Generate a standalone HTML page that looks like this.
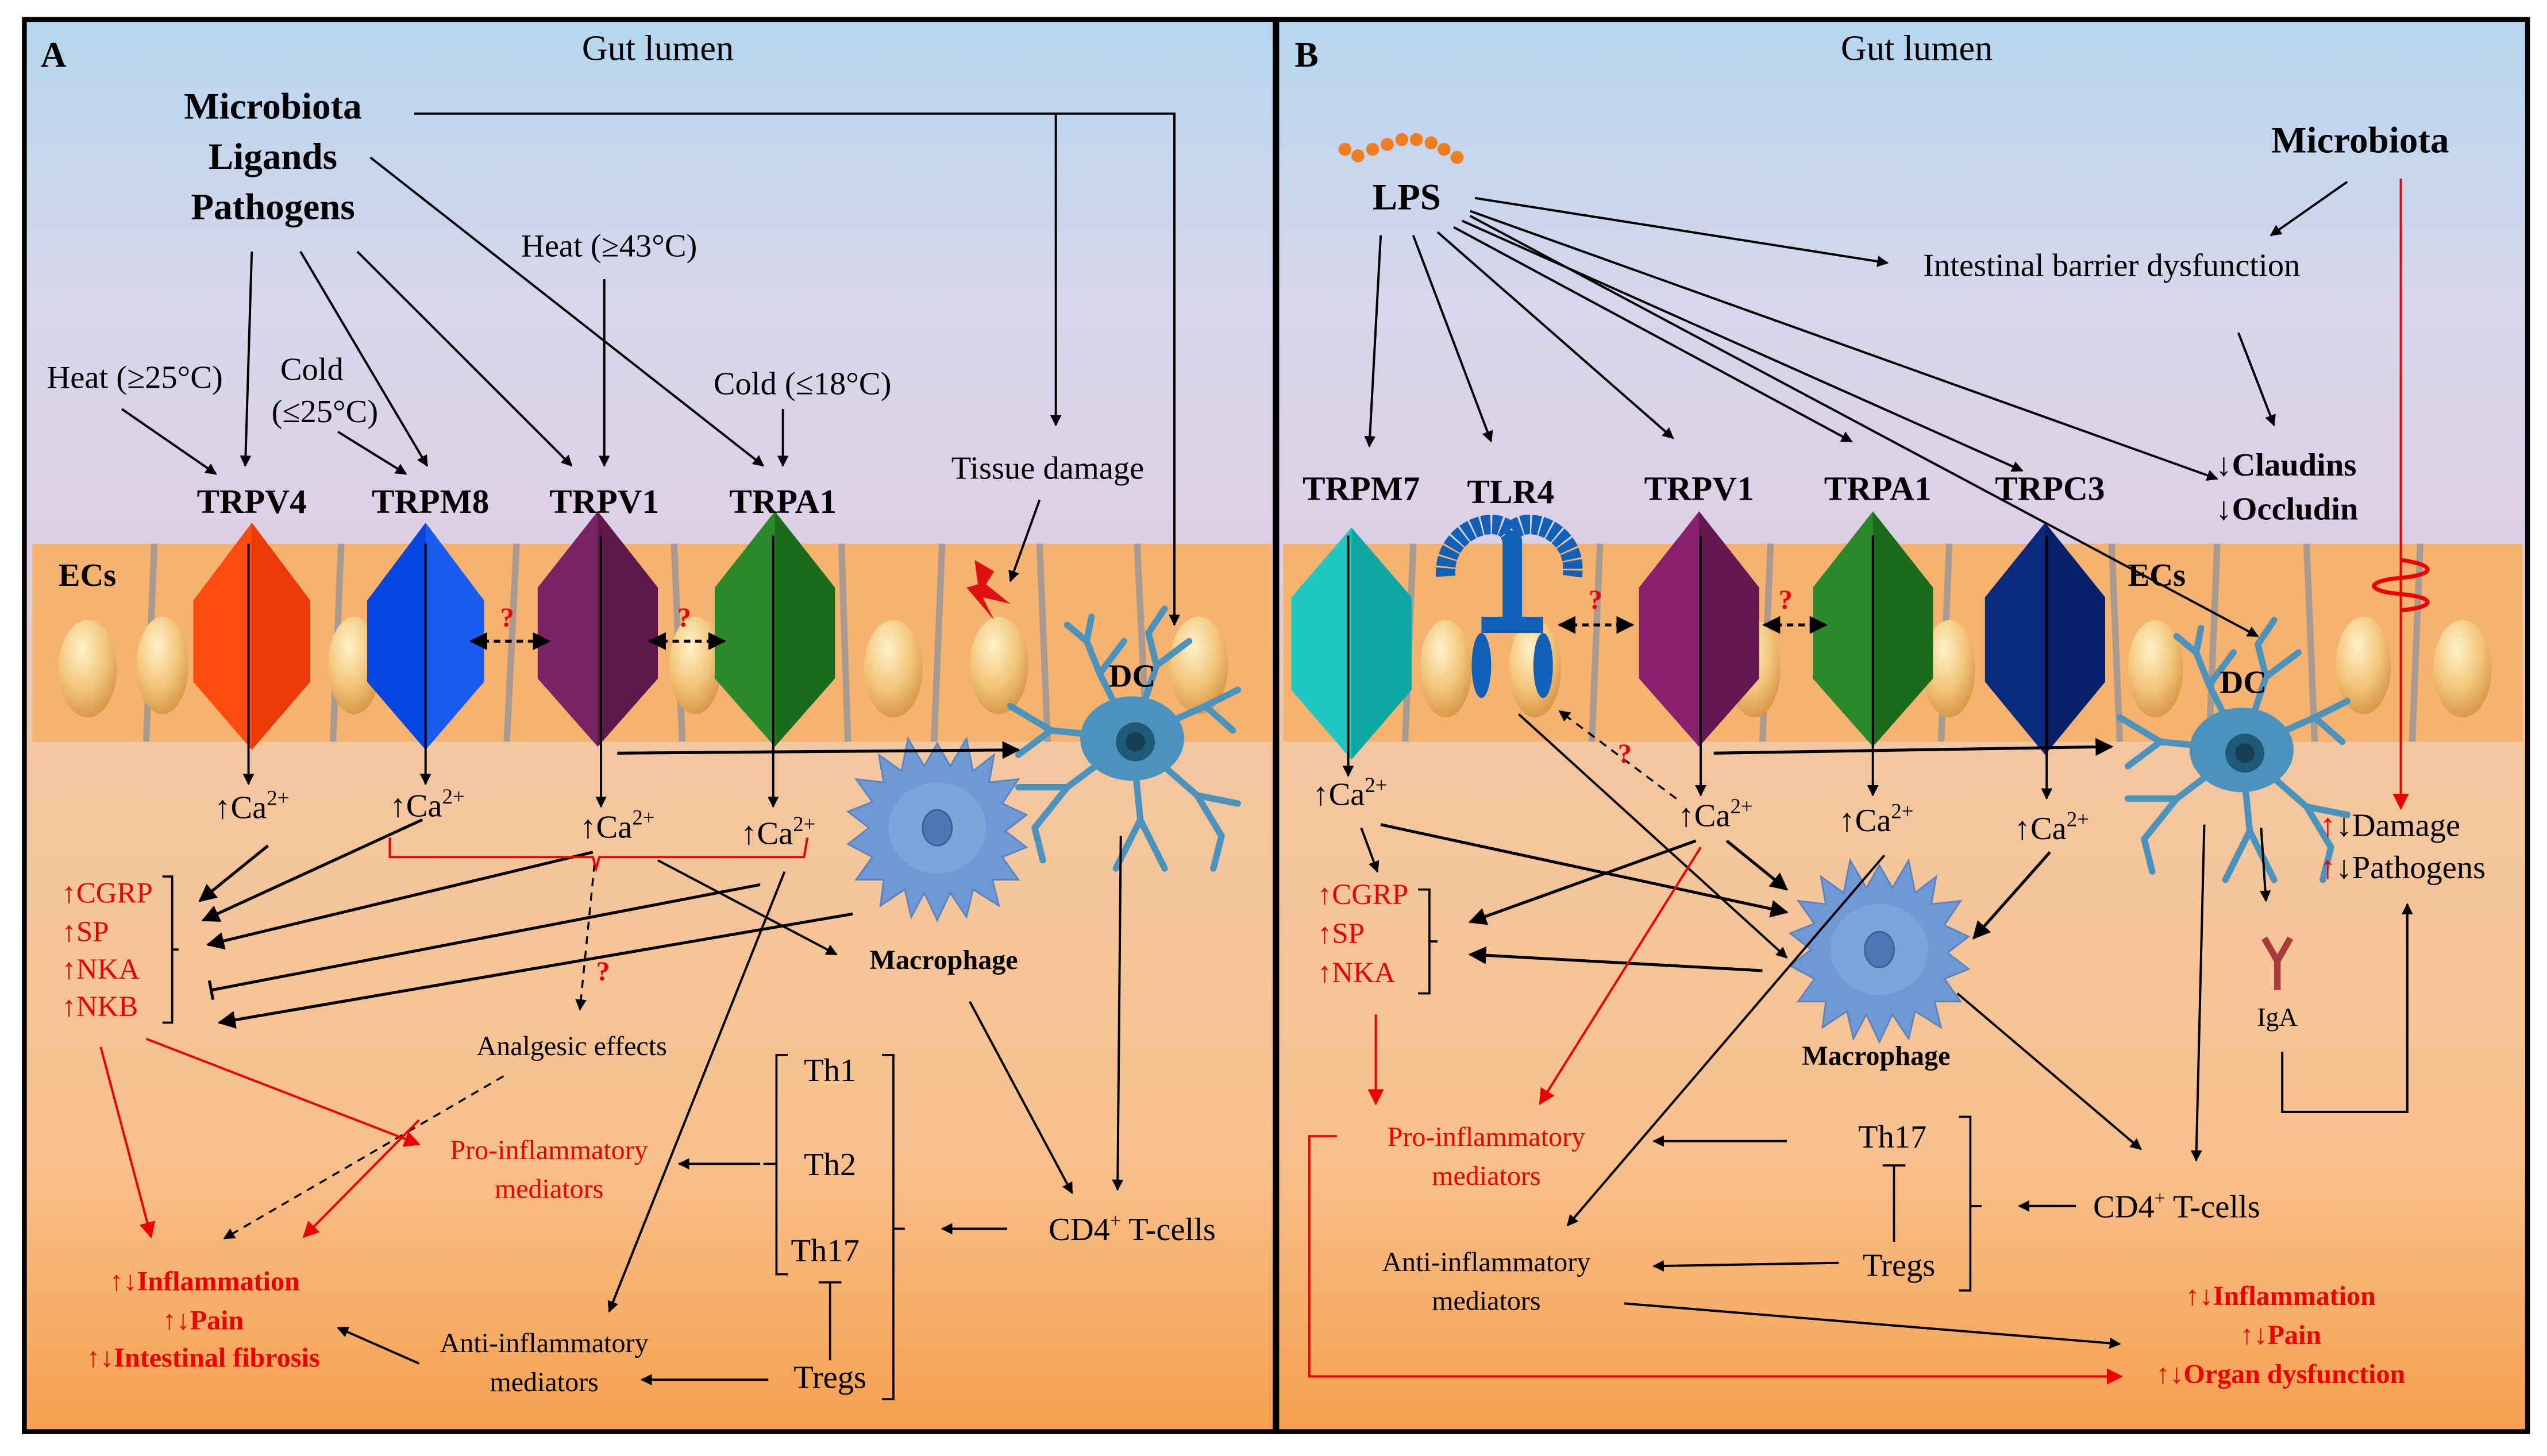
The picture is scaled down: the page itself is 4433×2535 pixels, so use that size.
<!DOCTYPE html>
<html><head><meta charset="utf-8">
<style>
html,body{margin:0;padding:0;background:#fff;}
svg{display:block;}
text{font-family:"Liberation Serif",serif;}
</style></head>
<body>
<svg width="4433" height="2535" viewBox="0 0 1568 897" preserveAspectRatio="none" xmlns="http://www.w3.org/2000/svg">
<defs>
<linearGradient id="bg" x1="0" y1="0" x2="0" y2="1">
<stop offset="0" stop-color="#b5d6ef"/>
<stop offset="0.2" stop-color="#d8d6ea"/>
<stop offset="0.37" stop-color="#ddd0e6"/>
<stop offset="0.52" stop-color="#f2c7a0"/>
<stop offset="0.8" stop-color="#f8c18e"/>
<stop offset="1" stop-color="#f5a04e"/>
</linearGradient>
<radialGradient id="nuc" cx="0.4" cy="0.3" r="0.7">
<stop offset="0" stop-color="#fff2c8"/><stop offset="0.6" stop-color="#f2c57a"/><stop offset="1" stop-color="#d99a4a"/>
</radialGradient>
<marker id="ar" viewBox="0 0 10 10" refX="9" refY="5" markerWidth="7" markerHeight="7" orient="auto-start-reverse" markerUnits="userSpaceOnUse"><path d="M0,0 L10,5 L0,10 z" fill="#000"/></marker>
<marker id="arb" viewBox="0 0 10 10" refX="9" refY="5" markerWidth="11" markerHeight="11" orient="auto-start-reverse" markerUnits="userSpaceOnUse"><path d="M0,0 L10,5 L0,10 z" fill="#000"/></marker>
<marker id="arr" viewBox="0 0 10 10" refX="9" refY="5" markerWidth="10" markerHeight="10" orient="auto" markerUnits="userSpaceOnUse"><path d="M0,0 L10,5 L0,10 z" fill="#e00"/></marker>
<marker id="bar" viewBox="0 0 10 10" refX="5" refY="5" markerWidth="12" markerHeight="12" orient="auto" markerUnits="userSpaceOnUse"><path d="M5,0 L5,10" stroke="#000" stroke-width="1.5"/></marker>
<g id="dc">
<g stroke="#4a93bd" stroke-width="4" fill="none" stroke-linecap="round">
<path d="M0,0 L-20,-40 L-28,-60 M-20,-40 L-5,-60 M-28,-60 L-40,-70 M-28,-60 L-25,-75"/>
<path d="M0,0 L15,-45 L10,-65 M15,-45 L35,-60 M10,-65 L20,-80"/>
<path d="M0,0 L45,-20 L65,-30 M45,-20 L62,-5"/>
<path d="M0,0 L40,35 L55,60 M40,35 L65,40 M55,60 L50,80"/>
<path d="M0,0 L5,50 L20,80 M5,50 L-10,80"/>
<path d="M0,0 L-40,30 L-60,55 M-40,30 L-70,30 M-60,55 L-55,75"/>
<path d="M0,0 L-50,-5 L-75,-20 M-50,-5 L-70,10"/>
</g>
<ellipse cx="0" cy="0" rx="32" ry="26" fill="#4a93bd"/>
<circle cx="2" cy="2" r="12" fill="#1f5a78"/>
<circle cx="2" cy="2" r="6" fill="#163f55"/>
</g>
<g id="mac">
<path d="M0,-52 L8,-38 L18,-55 L22,-35 L35,-45 L32,-28 L50,-30 L40,-15 L55,-8 L42,2 L55,12 L40,18 L50,32 L34,32 L38,48 L22,38 L18,55 L8,40 L0,57 L-8,40 L-16,55 L-20,38 L-35,48 L-33,32 L-50,32 L-40,18 L-55,10 L-42,0 L-55,-10 L-40,-16 L-50,-30 L-33,-28 L-36,-45 L-22,-35 L-18,-55 L-8,-38 Z" fill="#6f98d4" stroke="#5a84c0" stroke-width="1"/>
<ellipse cx="0" cy="0" rx="30" ry="28" fill="#7ea4dc"/>
<ellipse cx="0" cy="0" rx="9" ry="11" fill="#4d77b5" stroke="#3a5f95"/>
</g>
</defs>

<!-- backgrounds -->
<rect x="15" y="12" width="770" height="870" fill="url(#bg)"/>
<rect x="786" y="12" width="770" height="870" fill="url(#bg)"/>

<!-- epithelial bands -->
<g>
<rect x="20" y="335" width="763" height="122" fill="#f6b26f"/>
<rect x="790" y="335" width="763" height="122" fill="#f6b26f"/>
<g stroke="#a89a90" stroke-width="4">
<line x1="95" y1="335" x2="90" y2="457"/><line x1="210" y1="335" x2="205" y2="457"/><line x1="318" y1="335" x2="312" y2="457"/>
<line x1="415" y1="335" x2="420" y2="457"/><line x1="518" y1="335" x2="522" y2="457"/><line x1="580" y1="335" x2="575" y2="457"/>
<line x1="640" y1="335" x2="645" y2="457"/><line x1="700" y1="335" x2="706" y2="457"/>
<line x1="870" y1="335" x2="865" y2="457"/><line x1="985" y1="335" x2="980" y2="457"/><line x1="1090" y1="335" x2="1085" y2="457"/>
<line x1="1200" y1="335" x2="1195" y2="457"/><line x1="1300" y1="335" x2="1305" y2="457"/><line x1="1365" y1="335" x2="1360" y2="457"/>
<line x1="1420" y1="335" x2="1425" y2="457"/><line x1="1490" y1="335" x2="1485" y2="457"/>
</g>
<g fill="url(#nuc)">
<ellipse cx="54" cy="412" rx="18" ry="30"/><ellipse cx="100" cy="410" rx="16" ry="30"/><ellipse cx="218" cy="410" rx="16" ry="30"/>
<ellipse cx="428" cy="410" rx="16" ry="30"/><ellipse cx="550" cy="412" rx="18" ry="30"/><ellipse cx="615" cy="410" rx="18" ry="30"/><ellipse cx="738" cy="410" rx="18" ry="30"/>
<ellipse cx="890" cy="412" rx="16" ry="30"/><ellipse cx="945" cy="412" rx="16" ry="30"/><ellipse cx="1080" cy="412" rx="16" ry="30"/>
<ellipse cx="1200" cy="412" rx="16" ry="30"/><ellipse cx="1327" cy="412" rx="17" ry="30"/><ellipse cx="1455" cy="410" rx="17" ry="30"/><ellipse cx="1516" cy="412" rx="18" ry="30"/>
</g>
</g>

<!-- channels panel A -->
<g>
<polygon points="155,322 191,370 191,420 155,462 119,420 119,370" fill="#ff4a10"/>
<polygon points="155,322 191,370 191,420 155,462" fill="#ea3a05"/>
<polygon points="262,322 298,370 298,420 262,462 226,420 226,370" fill="#0745e0"/>
<polygon points="262,322 298,370 298,420 262,462" fill="#1a5cf0"/>
<polygon points="368,315 405,362 405,418 368,460 331,418 331,362" fill="#7a2266"/>
<polygon points="368,315 405,362 405,418 368,460" fill="#5c1848"/>
<polygon points="477,315 514,362 514,418 477,460 440,418 440,362" fill="#2a8a2a"/>
<polygon points="477,315 514,362 514,418 477,460" fill="#1c6b1c"/>
<polygon points="832,325 869,368 869,425 832,468 795,425 795,368" fill="#1ec8c0"/>
<polygon points="832,325 869,368 869,425 832,468" fill="#0ea8a2"/>
<polygon points="1046,315 1083,362 1083,418 1046,460 1009,418 1009,362" fill="#8a2070"/>
<polygon points="1046,315 1083,362 1083,418 1046,460" fill="#641850"/>
<polygon points="1153,315 1190,362 1190,418 1153,460 1116,418 1116,362" fill="#2a8a2a"/>
<polygon points="1153,315 1190,362 1190,418 1153,460" fill="#1c6b1c"/>
<polygon points="1259,322 1296,368 1296,420 1259,465 1222,420 1222,368" fill="#0a2a80"/>
<polygon points="1259,322 1296,368 1296,420 1259,465" fill="#051f68"/>
</g>
<!-- TLR4 -->
<g fill="#1060b8">
<path d="M890,355 C888,325 925,315 930,330 C935,315 972,325 968,355" fill="none" stroke="#1060b8" stroke-width="12" stroke-dasharray="5 1"/>
<rect x="925" y="328" width="12" height="60" rx="5"/>
<path d="M912,385 L950,385" stroke="#1060b8" stroke-width="10"/>
<ellipse cx="912" cy="410" rx="6" ry="20"/><ellipse cx="950" cy="410" rx="6" ry="20"/>
</g>

<!-- DCs, macrophages -->
<use href="#dc" x="697" y="455"/>
<use href="#dc" x="1380" y="462"/>
<use href="#mac" x="577" y="510"/>
<use href="#mac" x="1157" y="585"/>
<!-- lightning -->
<polygon points="600,345 612,352 607,360 622,372 605,368 612,382 595,362 602,360" fill="#e01010"/>
<!-- spring B -->
<path d="M1478,345 C1500,348 1500,354 1478,356 C1456,358 1456,364 1478,366 C1500,368 1500,374 1478,376" fill="none" stroke="#e00" stroke-width="2.5"/>
<!-- IgA -->
<g stroke="#a83a3a" stroke-width="4" fill="none"><path d="M1402,610 L1402,592 L1394,578 M1402,592 L1410,578"/></g>

<!-- panel borders -->
<rect x="15" y="12" width="770" height="870" fill="none" stroke="#000" stroke-width="3"/>
<rect x="786" y="12" width="770" height="870" fill="none" stroke="#000" stroke-width="3"/>

<!-- ===== Panel A connectors ===== -->
<g stroke="#000" stroke-width="1.4" fill="none" marker-end="url(#ar)">
<path d="M255,70 L723,70 L723,385"/>
<path d="M650,70 L650,262"/>
<path d="M228,97 L470,287"/>
<path d="M155,155 L151,287"/>
<path d="M185,155 L263,287"/>
<path d="M220,155 L352,287"/>
<path d="M372,172 L372,287"/>
<path d="M75,252 L133,292"/>
<path d="M208,266 L250,292"/>
<path d="M482,252 L482,287"/>
<path d="M640,308 L622,358"/>
<path d="M153,335 L153,483"/>
<path d="M262,335 L262,483"/>
<path d="M370,330 L370,497"/>
<path d="M476,330 L476,497"/>
<path d="M690,515 L688,733"/>
<path d="M405,530 L515,588"/>
<path d="M483,537 L375,808"/>
<path d="M597,617 L660,735"/>
<path d="M468,717 L418,717"/>
<path d="M620,757 L580,757"/>
<path d="M473,850 L395,850"/>
<path d="M258,840 L208,818"/>
</g>
<g stroke="#000" stroke-width="1.8" fill="none" marker-end="url(#arb)">
<path d="M380,464 L627,462"/>
<path d="M165,521 L123,555"/>
<path d="M260,505 L125,567"/>
<path d="M365,525 L128,582"/>
<path d="M525,563 L135,630"/>
</g>
<path d="M468,545 L130,610" stroke="#000" stroke-width="1.8" marker-end="url(#bar)"/>
<!-- dashed double -->
<g stroke="#000" stroke-width="1.8" stroke-dasharray="4 3" fill="none" marker-start="url(#arb)" marker-end="url(#arb)">
<path d="M290,395 L338,395"/><path d="M400,395 L446,395"/>
<path d="M960,385 L1005,385"/><path d="M1086,385 L1124,385"/>
</g>
<g stroke="#000" stroke-width="1.2" stroke-dasharray="5 4" fill="none" marker-end="url(#ar)">
<path d="M366,532 L357,622"/>
<path d="M310,663 L138,763"/>
<path d="M1032,492 L960,438"/>
</g>
<!-- red connectors A -->
<g stroke="#e00" stroke-width="1.4" fill="none">
<path d="M240,516 L240,528 L365,528 L367,535 L369,528 L495,528 L497,516"/>
</g>
<g stroke="#e00" stroke-width="1.4" fill="none" marker-end="url(#arr)">
<path d="M90,640 L258,705"/>
<path d="M62,645 L93,762"/>
<path d="M258,690 L187,762"/>
</g>
<!-- brackets A -->
<g stroke="#000" stroke-width="1.3" fill="none">
<path d="M100,540 L106,540 L106,630 L100,630 M106,585 L110,585"/>
<path d="M485,650 L478,650 L478,785 L485,785 M478,717 L470,717"/>
<path d="M543,650 L550,650 L550,862 L543,862 M550,757 L557,757"/>
<path d="M511,838 L511,790 M504,790 L518,790"/>
</g>

<!-- ===== Panel B connectors ===== -->
<g stroke="#000" stroke-width="1.4" fill="none" marker-end="url(#ar)">
<path d="M850,145 L843,275"/>
<path d="M870,145 L918,272"/>
<path d="M885,143 L1030,270"/>
<path d="M895,140 L1140,272"/>
<path d="M900,136 L1245,290"/>
<path d="M905,130 L1365,295"/>
<path d="M905,133 L1390,392"/>
<path d="M908,122 L1162,162"/>
<path d="M1445,112 L1398,145"/>
<path d="M1378,205 L1400,262"/>
<path d="M830,330 L830,478"/>
<path d="M1047,330 L1047,490"/>
<path d="M1153,330 L1153,490"/>
<path d="M1260,330 L1260,492"/>
<path d="M838,510 L848,537"/>
<path d="M1160,527 L965,755"/>
<path d="M935,440 L1100,590"/>
<path d="M1205,612 L1318,708"/>
<path d="M1357,508 L1352,715"/>
<path d="M1392,510 L1395,555"/>
<path d="M1405,648 L1405,685 L1482,685 L1482,557"/>
<path d="M1100,703 L1018,703"/>
<path d="M1132,778 L1018,780"/>
<path d="M1278,743 L1243,743"/>
<path d="M1000,803 L1305,828"/>
</g>
<g stroke="#000" stroke-width="1.8" fill="none" marker-end="url(#arb)">
<path d="M1055,464 L1300,460"/>
<path d="M850,508 L1100,562"/>
<path d="M1044,518 L905,568"/>
<path d="M1063,518 L1100,548"/>
<path d="M1262,525 L1215,578"/>
<path d="M1085,598 L905,588"/>
</g>
<g stroke="#e00" stroke-width="1.4" fill="none" marker-end="url(#arr)">
<path d="M1478,110 L1478,498"/>
<path d="M847,625 L847,680"/>
<path d="M1047,522 L948,680"/>
<path d="M823,700 L806,700 L806,848 L1306,848"/>
</g>
<g stroke="#000" stroke-width="1.3" fill="none">
<path d="M873,548 L880,548 L880,612 L873,612 M880,580 L885,580"/>
<path d="M1206,688 L1213,688 L1213,795 L1206,795 M1213,743 L1220,743"/>
<path d="M1166,765 L1166,718 M1159,718 L1173,718"/>
</g>

<!-- ===== Text Panel A ===== -->
<g font-size="20" fill="#000">
<text x="25" y="41" font-weight="bold" font-size="22">A</text>
<text x="405" y="37" text-anchor="middle" font-size="22">Gut lumen</text>
<g font-weight="bold" font-size="23" text-anchor="middle">
<text x="168" y="73">Microbiota</text><text x="168" y="104">Ligands</text><text x="168" y="135">Pathogens</text>
</g>
<text x="375" y="158" text-anchor="middle">Heat (≥43°C)</text>
<text x="83" y="239" text-anchor="middle">Heat (≥25°C)</text>
<text x="192" y="234" text-anchor="middle">Cold</text>
<text x="200" y="260" text-anchor="middle">(≤25°C)</text>
<text x="494" y="243" text-anchor="middle">Cold (≤18°C)</text>
<text x="645" y="295" text-anchor="middle">Tissue damage</text>
<g font-weight="bold" font-size="21" text-anchor="middle">
<text x="155" y="316">TRPV4</text><text x="265" y="316">TRPM8</text><text x="372" y="316">TRPV1</text><text x="482" y="316">TRPA1</text>
</g>
<text x="36" y="361" font-weight="bold" font-size="20">ECs</text>
<text x="697" y="423" font-weight="bold" font-size="20" text-anchor="middle">DC</text>
<text x="132" y="504">↑Ca<tspan font-size="13" dy="-8">2+</tspan></text>
<text x="240" y="503">↑Ca<tspan font-size="13" dy="-8">2+</tspan></text>
<text x="357" y="516">↑Ca<tspan font-size="13" dy="-8">2+</tspan></text>
<text x="456" y="520">↑Ca<tspan font-size="13" dy="-8">2+</tspan></text>
<g fill="#e00" font-size="18">
<text x="38" y="556">↑CGRP</text><text x="38" y="580">↑SP</text><text x="38" y="603">↑NKA</text><text x="38" y="626">↑NKB</text>
</g>
<text x="581" y="597" font-weight="bold" font-size="17" text-anchor="middle">Macrophage</text>
<text x="367" y="604" fill="#e00" font-weight="bold" font-size="17">?</text>
<text x="352" y="650" font-size="17" text-anchor="middle">Analgesic  effects</text>
<g fill="#e00" font-size="17" text-anchor="middle"><text x="338" y="714">Pro-inflammatory</text><text x="338" y="738">mediators</text></g>
<text x="511" y="666" text-anchor="middle">Th1</text>
<text x="511" y="724" text-anchor="middle">Th2</text>
<text x="508" y="777" text-anchor="middle">Th17</text>
<text x="511" y="855" text-anchor="middle">Tregs</text>
<text x="697" y="764" text-anchor="middle">CD4<tspan font-size="12" dy="-8">+</tspan><tspan dy="8"> T-cells</tspan></text>
<g font-size="17" text-anchor="middle"><text x="335" y="833">Anti-inflammatory</text><text x="335" y="857">mediators</text></g>
<g fill="#e00" font-weight="bold" font-size="17" text-anchor="middle">
<text x="126" y="795">↑↓Inflammation</text><text x="125" y="819">↑↓Pain</text><text x="125" y="842">↑↓Intestinal  fibrosis</text>
</g>
<g fill="#e00" font-weight="bold" font-size="17"><text x="308" y="386">?</text><text x="417" y="386">?</text></g>
</g>

<!-- ===== Text Panel B ===== -->
<g font-size="20" fill="#000">
<text x="797" y="41" font-weight="bold" font-size="22">B</text>
<text x="1180" y="37" text-anchor="middle" font-size="22">Gut lumen</text>
<g fill="#f07d20"><circle cx="828" cy="92" r="4"/><circle cx="836" cy="96" r="4"/><circle cx="845" cy="92" r="4"/><circle cx="854" cy="89" r="4"/><circle cx="863" cy="86" r="4"/><circle cx="872" cy="86" r="4"/><circle cx="881" cy="88" r="4"/><circle cx="889" cy="92" r="4"/><circle cx="897" cy="97" r="4"/></g>
<text x="866" y="129" font-weight="bold" font-size="23" text-anchor="middle">LPS</text>
<text x="1453" y="94" font-weight="bold" font-size="23" text-anchor="middle">Microbiota</text>
<text x="1300" y="170" text-anchor="middle">Intestinal  barrier dysfunction</text>
<g font-weight="bold" font-size="20"><text x="1364" y="293">↓Claudins</text><text x="1364" y="320">↓Occludin</text></g>
<g font-weight="bold" font-size="21" text-anchor="middle">
<text x="838" y="308">TRPM7</text><text x="930" y="310">TLR4</text><text x="1046" y="308">TRPV1</text><text x="1156" y="308">TRPA1</text><text x="1262" y="308">TRPC3</text>
</g>
<text x="1310" y="361" font-weight="bold">ECs</text>
<text x="1381" y="427" font-weight="bold" text-anchor="middle">DC</text>
<text x="808" y="496">↑Ca<tspan font-size="13" dy="-8">2+</tspan></text>
<text x="1033" y="509">↑Ca<tspan font-size="13" dy="-8">2+</tspan></text>
<text x="1132" y="512">↑Ca<tspan font-size="13" dy="-8">2+</tspan></text>
<text x="1240" y="517">↑Ca<tspan font-size="13" dy="-8">2+</tspan></text>
<g fill="#e00" font-size="18"><text x="811" y="557">↑CGRP</text><text x="811" y="581">↑SP</text><text x="811" y="605">↑NKA</text></g>
<text x="1155" y="656" font-weight="bold" font-size="17" text-anchor="middle">Macrophage</text>
<text x="1402" y="632" font-size="16" text-anchor="middle">IgA</text>
<text x="1428" y="515"><tspan fill="#e00">↑</tspan>↓Damage</text>
<text x="1428" y="541"><tspan fill="#e00">↑</tspan>↓Pathogens</text>
<g fill="#e00" font-size="17" text-anchor="middle"><text x="915" y="706">Pro-inflammatory</text><text x="915" y="730">mediators</text></g>
<g font-size="17" text-anchor="middle"><text x="915" y="783">Anti-inflammatory</text><text x="915" y="807">mediators</text></g>
<text x="1165" y="707" text-anchor="middle">Th17</text>
<text x="1169" y="786" text-anchor="middle">Tregs</text>
<text x="1340" y="750" text-anchor="middle">CD4<tspan font-size="12" dy="-8">+</tspan><tspan dy="8"> T-cells</tspan></text>
<g fill="#e00" font-weight="bold" font-size="17" text-anchor="middle">
<text x="1404" y="804">↑↓Inflammation</text><text x="1404" y="828">↑↓Pain</text><text x="1404" y="852">↑↓Organ  dysfunction</text>
</g>
<g fill="#e00" font-weight="bold" font-size="17"><text x="978" y="375">?</text><text x="1095" y="375">?</text><text x="996" y="470">?</text></g>
</g>
</svg>
</body></html>
